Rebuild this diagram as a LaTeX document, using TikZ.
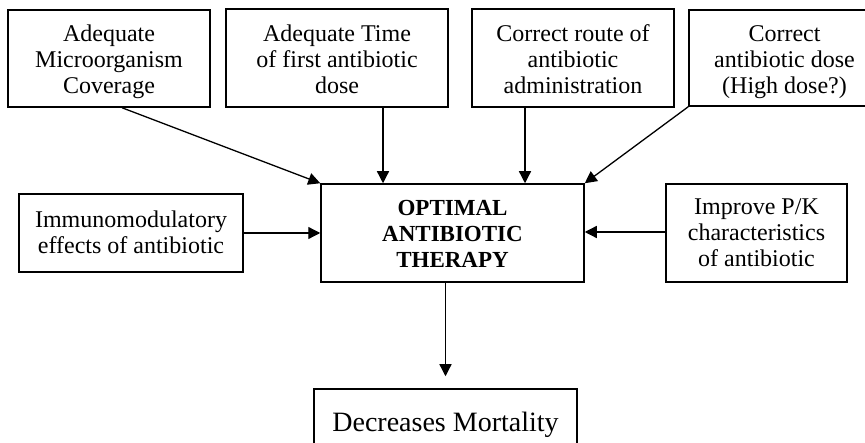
\documentclass[tikz,border=0pt]{standalone}
\usepackage{fontspec}
\setmainfont{Liberation Serif}
\usetikzlibrary{arrows.meta}

% centred stack of lines, set a little low in its box
% (extra room above the stack pushes it down when the node centres it)
\newcommand\linestack[2][7pt]{%
  \raisebox{0pt}[\dimexpr\height+#1\relax][\depth]{\begin{tabular}{@{}c@{}}#2\end{tabular}}}

\tikzset{
  box/.style={draw, line width=1.5pt, inner sep=0pt,
    font=\fontsize{24}{26}\selectfont},
  hub/.style={box, font=\fontsize{23}{26}\selectfont\bfseries},
  outcome/.style={box, font=\fontsize{28}{32}\selectfont},
  arr/.style={line width=1.3pt, -{Triangle[length=12pt,width=12pt]}}
}

\begin{document}
\begin{tikzpicture}[x=1pt,y=-1pt]
  \clip (0,0) rectangle (865,443);
  \fill[white] (0,0) rectangle (865,443);

  % contributing factors along the top
  \node[box, minimum width=202pt, minimum height=97pt] (cov) at (109,58.5)
    {\linestack[8pt]{Adequate\\Microorganism\\Coverage}};
  \node[box, minimum width=222pt, minimum height=98pt] (time) at (337,58)
    {\linestack[8pt]{Adequate Time\\of first antibiotic\\dose}};
  \node[box, minimum width=202pt, minimum height=98pt] (route) at (573,58)
    {\linestack[8pt]{Correct route of\\antibiotic\\administration}};
  \node[box, minimum width=191pt, minimum height=96pt] (dose) at (784.5,58)
    {\linestack[8pt]{Correct\\antibiotic dose\\(High dose?)}};

  % central therapy box and side factors
  \node[hub, minimum width=263pt, minimum height=98pt] (opt) at (452.5,233)
    {\linestack{OPTIMAL\\ANTIBIOTIC\\THERAPY}};
  \node[box, minimum width=224pt, minimum height=78pt] (imm) at (131,233)
    {\linestack[5pt]{Immunomodulatory\\effects of antibiotic}};
  \node[box, minimum width=181pt, minimum height=98pt] (pk) at (756.5,233)
    {\linestack[4pt]{Improve P/K\\characteristics\\of antibiotic}};

  % outcome
  \node[outcome, minimum width=263pt, minimum height=71pt] (mort) at (445.5,424.5)
    {Decreases Mortality};

  % connectors
  \coordinate (covfoot) at ([xshift=13pt]cov.south);
  \coordinate (timefoot) at ([xshift=46pt]time.south);
  \coordinate (routefoot) at ([xshift=-48pt]route.south);
  \coordinate (optfoot) at (opt.south -| mort.north);
  \coordinate (morttop) at ([yshift=12pt]mort.north);

  \draw[arr] (covfoot) -- (opt.north west);
  \draw[arr] (timefoot) -- (timefoot |- opt.north);
  \draw[arr] (routefoot) -- (routefoot |- opt.north);
  \draw[arr] (dose.south west) -- (opt.north east);
  \draw[arr] (imm.east) -- (imm.east -| opt.west);
  \draw[arr] ([yshift=1pt]pk.west) -- ([yshift=1pt]pk.west -| opt.east);
  \draw[arr] (optfoot) -- (morttop);
\end{tikzpicture}
\end{document}
